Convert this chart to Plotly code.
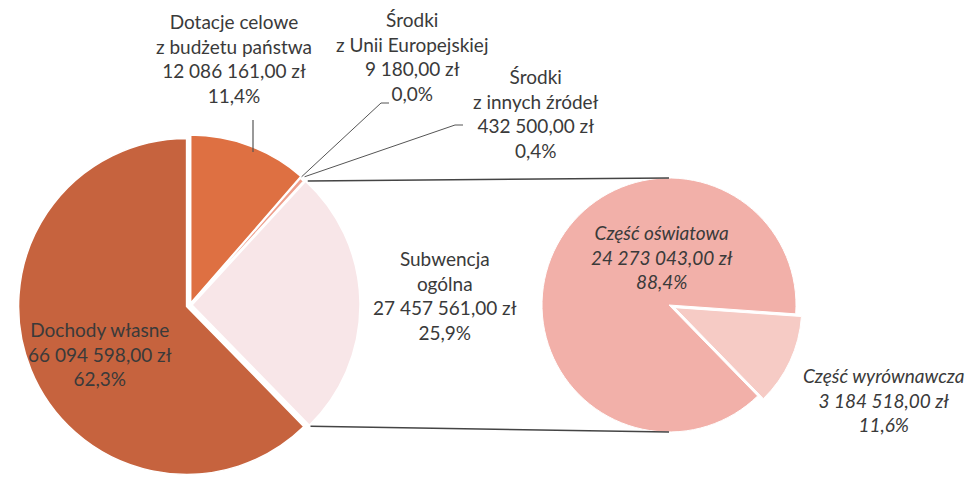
import math
import plotly.graph_objects as go

W, H = 978, 477

# ---- data ----
main_labels = ["Dotacje celowe\nz budżetu państwa", "Środki\nz Unii Europejskiej",
               "Środki\nz innych źródeł", "Subwencja\nogólna", "Dochody własne"]
main_values = [12086161.00, 9180.00, 432500.00, 27457561.00, 66094598.00]
main_colors = ["#DE7042", "#E88A78", "#EE9F8C", "#F8E6E8", "#C6633E"]

sub_labels = ["Część wyrównawcza", "Część oświatowa"]
sub_values = [3184518.00, 24273043.00]
sub_colors = ["#F6CBC5", "#F2B0A9"]

TXT = "#3a3a3a"
FONT = "Lato"
FS = 19


def fmt_pln(v):
    s = f"{v:,.2f}".replace(",", " ").replace(".", ",")
    return s + " zł"


def fmt_pct(v, total):
    return f"{100 * v / total:.1f}".replace(".", ",") + "%"


# ---- geometry (pixels) ----
L_CX, L_CY, L_R = 190, 305, 168
L_PULL = [0.012, 0, 0, 0.012, 0.022]
R_CX, R_CY, R_R = 669, 305, 127
R_PULL = [0.05, 0]


def domain(cx, cy, r, maxpull):
    hs = r * (1 + maxpull)
    x0, x1 = (cx - hs) / W, (cx + hs) / W
    y0, y1 = (H - cy - hs) / H, (H - cy + hs) / H
    return dict(x=[max(0, x0), min(1, x1)], y=[max(0, y0), min(1, y1)])


fig = go.Figure()
fig.add_trace(go.Pie(
    labels=[l.replace("\n", " ") for l in main_labels], values=main_values,
    sort=False, direction="clockwise", rotation=0,
    marker=dict(colors=main_colors, line=dict(color="white", width=1.5)),
    pull=L_PULL, textinfo="none", hoverinfo="label+value+percent",
    domain=domain(L_CX, L_CY, L_R, max(L_PULL)), showlegend=False,
))
fig.add_trace(go.Pie(
    labels=sub_labels, values=sub_values,
    sort=False, direction="clockwise", rotation=94,
    marker=dict(colors=sub_colors, line=dict(color="white", width=1)),
    pull=R_PULL, textinfo="none", hoverinfo="label+value+percent",
    domain=domain(R_CX, R_CY, R_R, max(R_PULL)), showlegend=False,
))

tot_main = sum(main_values)
tot_sub = sum(sub_values)


def px(x, y):
    return x / W, 1 - y / H


def pt_on(cx, cy, r, ang_deg):
    a = math.radians(ang_deg)
    return cx + r * math.sin(a), cy - r * math.cos(a)


# cumulative angles of main pie
angles = []
acc = 0
for v in main_values:
    a0 = acc / tot_main * 360
    acc += v
    a1 = acc / tot_main * 360
    angles.append((a0, a1))

# label positions (pixel centres)
main_pos = [(234, 58), (412, 57), (536, 114), (445, 295), (100, 354)]
sub_pos = [(883, 400), (662, 257)]

anns = []
for lab, v, (x, y) in zip(main_labels, main_values, main_pos):
    text = "<br>".join(lab.split("\n") + [fmt_pln(v), fmt_pct(v, tot_main)])
    xx, yy = px(x, y)
    anns.append(dict(x=xx, y=yy, xref="paper", yref="paper", text=text, showarrow=False,
                     xanchor="center", yanchor="middle", align="center",
                     font=dict(family=FONT, size=FS, color=TXT)))
for lab, v, (x, y) in zip(sub_labels, sub_values, sub_pos):
    text = "<i>" + "<br>".join([lab, fmt_pln(v), fmt_pct(v, tot_sub)]) + "</i>"
    xx, yy = px(x, y)
    anns.append(dict(x=xx, y=yy, xref="paper", yref="paper", text=text, showarrow=False,
                     xanchor="center", yanchor="middle", align="center",
                     font=dict(family=FONT, size=FS, color=TXT)))

shapes = []


def seg(p, q, color="#444", width=1.3):
    x0, y0 = px(*p)
    x1, y1 = px(*q)
    shapes.append(dict(type="line", xref="paper", yref="paper", x0=x0, y0=y0, x1=x1, y1=y1,
                       line=dict(color=color, width=width)))


# leader lines
mid = lambda i: (angles[i][0] + angles[i][1]) / 2
seg((253, 120), (253, 152), "#555", 1.2)
p_ue = pt_on(L_CX, L_CY, L_R + 2, mid(1))
seg(p_ue, (381, 103), "#555", 1.0)
seg((381, 103), (389, 103), "#555", 1.0)
p_in = pt_on(L_CX, L_CY, L_R + 4, mid(2))
seg(p_in, (455, 125), "#555", 1.0)
seg((455, 125), (463, 125), "#555", 1.0)

# pie-of-pie connectors
sub_start, sub_end = angles[3]
p_top = pt_on(L_CX, L_CY, L_R + 3, sub_start + 1)
p_bot = pt_on(L_CX, L_CY, L_R + 3, sub_end - 0.5)
seg(p_top, (R_CX, R_CY - R_R), "#444", 1.5)
seg(p_bot, (R_CX, R_CY + R_R), "#444", 1.5)

fig.update_layout(
    width=W, height=H, margin=dict(l=0, r=0, t=0, b=0),
    paper_bgcolor="white", plot_bgcolor="white",
    annotations=anns, shapes=shapes, showlegend=False,
)
fig.write_html("out.html")
